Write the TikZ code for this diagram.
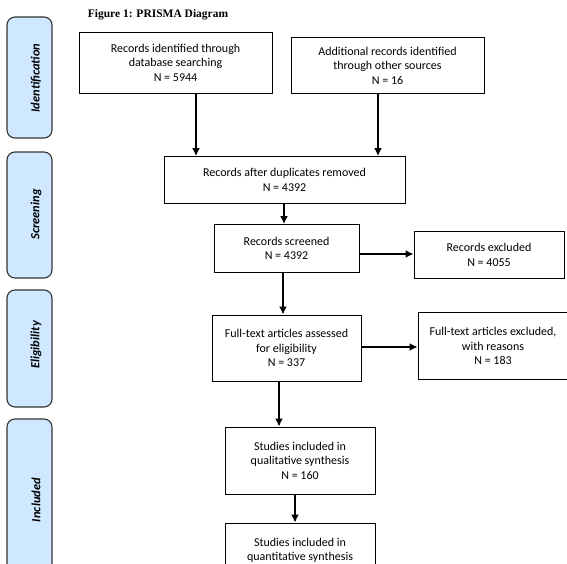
\documentclass[tikz,border=0pt]{standalone}
\usepackage{fontspec}
\setmainfont{Carlito}
\newfontfamily\titlefont{Liberation Serif}
\usetikzlibrary{arrows.meta}
\definecolor{phase}{RGB}{207,232,255}
\begin{document}
\begin{tikzpicture}[x=1pt,y=-1pt,
  box/.style={draw=black, line width=0.9pt, align=center, inner sep=0pt,
    font=\fontsize{12}{14.5}\selectfont},
  phasebox/.style={draw=black!80, fill=phase, line width=1.1pt, rounded corners=8pt,
    minimum width=45pt, inner sep=0pt},
  phaselabel/.style={rotate=90, inner sep=0pt,
    font=\fontsize{12.5}{14}\selectfont\bfseries\itshape},
  arr/.style={line width=2pt, -{Latex[length=8pt,width=8pt]}}]
\useasboundingbox (0,0) rectangle (567,564);
\clip (0,0) rectangle (567,564);

% title
\node[font=\titlefont\bfseries\fontsize{11.5}{13}\selectfont, inner sep=0pt] (title) at (158,15) {Figure 1: PRISMA Diagram};

% phase boxes
\node[phasebox, minimum height=121pt] (pid) at (29.5,77.5) {};
\node[phasebox, minimum height=126pt] (psc) at (29.5,215) {};
\node[phasebox, minimum height=117pt] (pel) at (29.5,348.5) {};
\node[phasebox, minimum height=171pt] (pin) at (29.5,504.5) {};
\node[phaselabel] (lid) at (36,78) {Identification};
\node[phaselabel] (lsc) at (36,214.5) {Screening};
\node[phaselabel] (lel) at (36,345) {Eligibility};
\node[phaselabel] (lin) at (36,500) {Included};

% flow boxes
\node[box, minimum width=193pt, minimum height=61pt] (A) at (175.5,62.5)
  {Records identified through\\database searching\\N = 5944};
\node[box, minimum width=193pt, minimum height=56pt] (B) at (387.5,65.5)
  {Additional records identified\\through other sources\\N = 16};
\node[box, minimum width=241pt, minimum height=47pt] (C) at (284.5,180)
  {Records after duplicates removed\\N = 4392};
\node[box, minimum width=145pt, minimum height=48pt] (D) at (286.5,248.5)
  {Records screened\\N = 4392};
\node[box, minimum width=150pt, minimum height=47pt] (E) at (489,255)
  {Records excluded\\N = 4055};
\node[box, minimum width=149pt, minimum height=66pt] (F) at (286.5,348)
  {Full-text articles assessed\\for eligibility\\N = 337};
\node[box, minimum width=150pt, minimum height=67pt] (G) at (493,346)
  {Full-text articles excluded,\\with reasons\\N = 183};
\node[box, minimum width=150pt, minimum height=67pt] (H) at (300,460.5)
  {Studies included in\\qualitative synthesis\\N = 160};
\node[box, minimum width=150pt, minimum height=67pt] (I) at (300,556.5)
  {Studies included in\\quantitative synthesis\\~};

% guide coordinates
\coordinate (xab) at (196,0);
\coordinate (xbc) at (378,0);
\coordinate (xcd) at (284,0);
\coordinate (xdf) at (283,0);
\coordinate (xfh) at (279,0);
\coordinate (xhi) at (295,0);
\coordinate (yde) at (0,254);
\coordinate (yfg) at (0,347);

% connectors
\draw[arr] (A.south -| xab) -- (C.north -| xab);
\draw[arr] (B.south -| xbc) -- (C.north -| xbc);
\draw[arr] (C.south -| xcd) -- (D.north -| xcd);
\draw[arr] (D.east |- yde) -- (E.west |- yde);
\draw[arr] (D.south -| xdf) -- (F.north -| xdf);
\draw[arr] (F.east |- yfg) -- (G.west |- yfg);
\draw[arr] (F.south -| xfh) -- (H.north -| xfh);
\draw[arr] (H.south -| xhi) -- (I.north -| xhi);
\end{tikzpicture}
\end{document}
